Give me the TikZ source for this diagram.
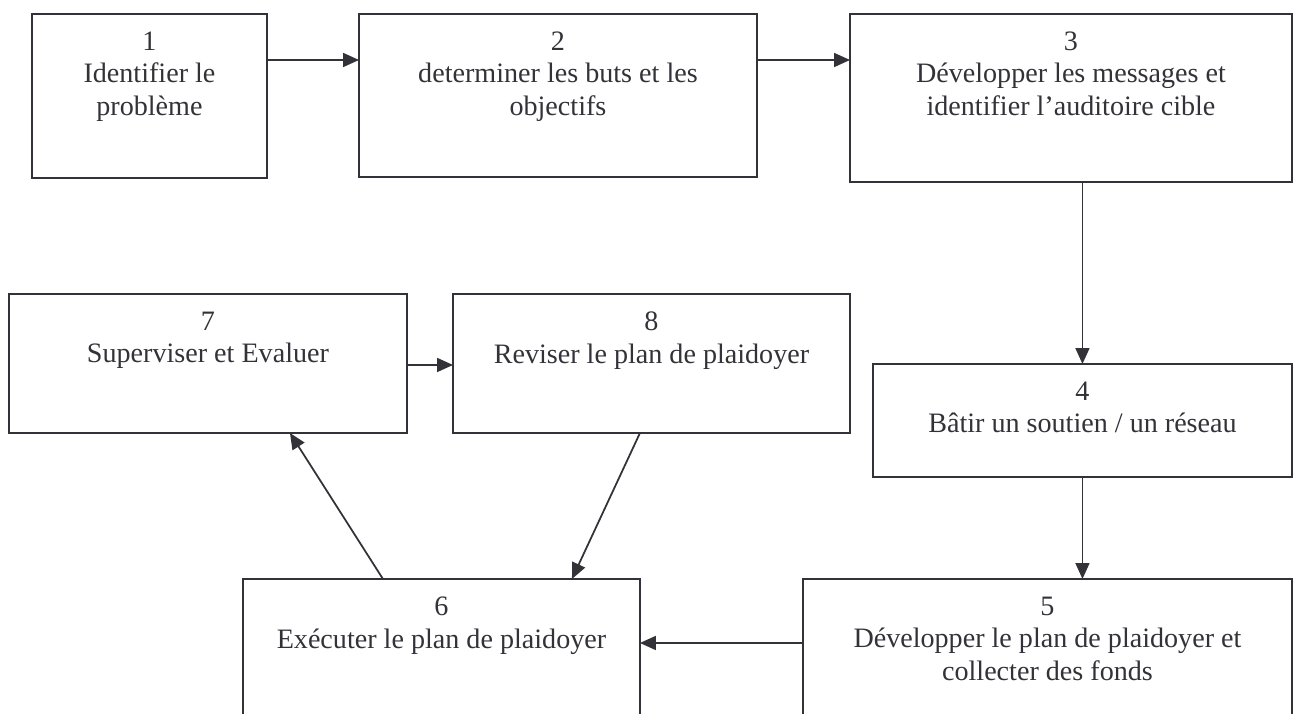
\documentclass[tikz,border=0pt]{standalone}
\usepackage{fontspec}
\setmainfont{Liberation Serif}
\usetikzlibrary{arrows.meta, positioning}
\definecolor{inkgray}{RGB}{50,50,56}

\begin{document}
\begin{tikzpicture}[
    x=0.02cm, y=-0.02cm,
    line width=1pt,
    stage/.style={draw=inkgray, rectangle, anchor=north west, inner sep=0pt, outer sep=0pt},
    stagetext/.style={anchor=north, align=center, inner sep=0pt, yshift=-0.34cm, text=inkgray, font=\fontsize{16pt}{18.5pt}\selectfont},
    flow/.style={draw=inkgray, -{Triangle[length=0.32cm, width=0.28cm]}}
]
    \clip (0,0) rectangle (1293,713);

    % ================= TOP ROW =================
    \node[stage, minimum width=4.7cm, minimum height=3.28cm,
        label={[stagetext]north:{1\\Identifier le\\problème}}] (b1) at (32,14) {};
    \node[stage, minimum width=7.96cm, minimum height=3.26cm,
        label={[stagetext]north:{2\\determiner les buts et les\\objectifs}}] (b2) at (359,14) {};
    \node[stage, minimum width=8.84cm, minimum height=3.36cm,
        label={[stagetext]north:{3\\Développer les messages et\\identifier l’auditoire cible}}] (b3) at (850,14) {};

    % ================= MIDDLE ROW =================
    \node[stage, minimum width=7.96cm, minimum height=2.78cm,
        label={[stagetext]north:{7\\Superviser et Evaluer}}] (b7) at (9,294) {};
    \node[stage, minimum width=7.94cm, minimum height=2.78cm,
        label={[stagetext]north:{8\\Reviser le plan de plaidoyer}}] (b8) at (453,294) {};
    \node[stage, minimum width=8.38cm, minimum height=2.26cm,
        label={[stagetext]north:{4\\Bâtir un soutien / un réseau}}] (b4) at (873,364) {};

    % ================= BOTTOM ROW =================
    \node[stage, minimum width=7.94cm, minimum height=3.2cm,
        label={[stagetext]north:{6\\Exécuter le plan de plaidoyer}}] (b6) at (243,579) {};
    \node[stage, minimum width=9.78cm, minimum height=3.2cm,
        label={[stagetext]north:{5\\Développer le plan de plaidoyer et\\collecter des fonds}}] (b5) at (803,579) {};

    % ================= CONNECTIONS =================
    \draw[flow] ([yshift=-0.92cm]b1.north east) -- ([yshift=-0.92cm]b2.north west);
    \draw[flow] ([yshift=-0.92cm]b2.north east) -- ([yshift=-0.92cm]b3.north west);
    \draw[flow] (b4.north |- b3.south) -- (b4.north);
    \draw[flow] (b4.south) -- (b4.south |- b5.north);
    \draw[flow] ([yshift=-1.28cm]b5.north west) -- ([yshift=-1.28cm]b6.north east);
    \draw[flow] ([xshift=2.8cm]b6.north west) -- ([xshift=5.62cm]b7.south west);
    \draw[flow] ([xshift=3.74cm]b8.south west) -- ([xshift=6.58cm]b6.north west);
    \draw[flow] ([yshift=-1.42cm]b7.north east) -- ([yshift=-1.42cm]b8.north west);

\end{tikzpicture}
\end{document}
